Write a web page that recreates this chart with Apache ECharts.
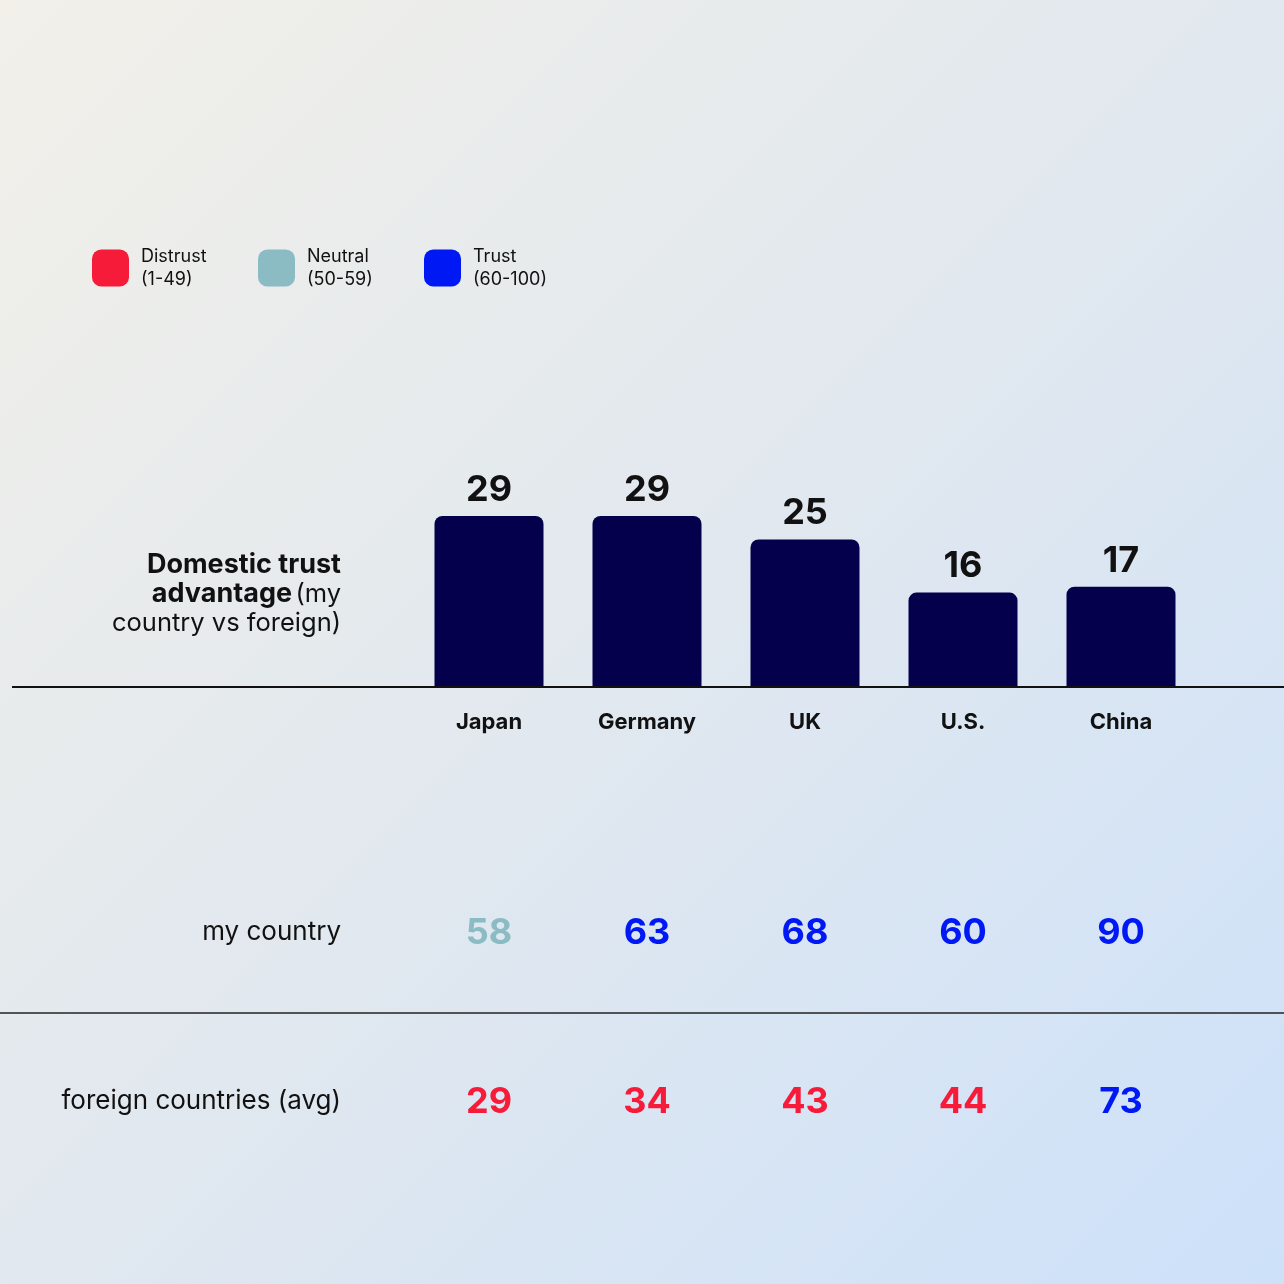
<!DOCTYPE html>
<html>
<head>
<meta charset="utf-8">
<script src="https://cdn.jsdelivr.net/npm/echarts@6/dist/echarts.min.js"></script>
<style>
  html, body { margin: 0; padding: 0; }
  #chart { width: 1284px; height: 1284px; }
</style>
</head>
<body>
<div id="chart"></div>
<script>
  // data
  const countries = ["Japan", "Germany", "UK", "U.S.", "China"];
  const advantage = [29, 29, 25, 16, 17];
  const rows = ["my country", "foreign countries (avg)"];
  const myCountry = [58, 63, 68, 60, 90];
  const foreign = [29, 34, 43, 44, 73];
  const bands = ["Distrust", "Neutral", "Trust"];
  const bandRanges = ["(1-49)", "(50-59)", "(60-100)"];
  const bandMin = [1, 50, 60];
  const bandColors = ["#f71b3a", "#8bbbc3", "#0018f4"];

  const FONT = "Inter";

  function bandOf(v) {
    let b = 0;
    bandMin.forEach((m, i) => { if (v >= m) b = i; });
    return b;
  }

  // split cells per band so each band is its own series (matches legend)
  const cells = bands.map(() => []);
  [myCountry, foreign].forEach((vals, r) => {
    vals.forEach((v, c) => cells[bandOf(v)].push([c, r, v]));
  });

  const chart = echarts.init(document.getElementById("chart"));

  const bandSeries = bands.map((name, i) => ({
    name: name,
    type: "scatter",
    xAxisIndex: 1,
    yAxisIndex: 1,
    symbolSize: 1,
    itemStyle: { color: "rgba(0,0,0,0)", opacity: 1 },
    label: {
      show: true,
      position: "inside",
      offset: [0, 1],
      formatter: (p) => p.value[2],
      fontFamily: FONT,
      fontSize: 36,
      fontWeight: "bold",
      color: bandColors[i]
    },
    emphasis: { disabled: true },
    data: cells[i]
  }));

  const legendLefts = [92, 258, 424];

  const option = {
    backgroundColor: new echarts.graphic.LinearGradient(0, 0, 1, 1, [
      { offset: 0, color: "#f2f0e9" },
      { offset: 0.5, color: "#e1e8ef" },
      { offset: 1, color: "#cde1fa" }
    ]),
    animation: false,
    textStyle: { fontFamily: FONT },
    legend: bands.map((name, i) => ({
      data: [{ name: name, itemStyle: { color: bandColors[i], opacity: 1 } }],
      left: legendLefts[i],
      top: 245,
      padding: 0,
      icon: "roundRect",
      itemWidth: 37,
      itemHeight: 37,
      selectedMode: false,
      formatter: (n) => n + "\n" + bandRanges[bands.indexOf(n)],
      textStyle: {
        fontFamily: FONT,
        fontSize: 18,
        lineHeight: 23,
        color: "#111",
        padding: [0, 0, 0, 7]
      }
    })),
    grid: [
      { left: 410, right: 84, top: 451, height: 236 },
      { left: 410, right: 84, top: 848, height: 338 }
    ],
    xAxis: [
      {
        type: "category",
        gridIndex: 0,
        data: countries,
        axisLine: { show: false },
        axisTick: { show: false },
        axisLabel: {
          margin: 24,
          fontFamily: FONT,
          fontSize: 22,
          fontWeight: "bold",
          color: "#111"
        }
      },
      {
        type: "category",
        gridIndex: 1,
        data: countries,
        show: false
      }
    ],
    yAxis: [
      {
        type: "value",
        gridIndex: 0,
        min: 0,
        max: 40,
        show: false
      },
      {
        type: "category",
        gridIndex: 1,
        data: rows,
        inverse: true,
        axisLine: { show: false },
        axisTick: { show: false },
        splitLine: { show: false },
        axisLabel: {
          margin: 69,
          fontFamily: FONT,
          fontSize: 26,
          color: "#111"
        }
      }
    ],
    graphic: [
      {
        type: "line",
        shape: { x1: 12, y1: 687, x2: 1284, y2: 687 },
        style: { stroke: "#111", lineWidth: 2 },
        z: 10
      },
      {
        type: "line",
        shape: { x1: 0, y1: 1013, x2: 1284, y2: 1013 },
        style: { stroke: "#222", lineWidth: 1.5 }
      },
      {
        type: "text",
        x: 341,
        y: 594,
        style: {
          text: "{b|Domestic trust}\n{b|advantage} {n|(my}\n{n|country vs foreign)}",
          align: "right",
          verticalAlign: "middle",
          rich: {
            b: { fontFamily: FONT, fontSize: 27, fontWeight: "bold", lineHeight: 29, fill: "#111" },
            n: { fontFamily: FONT, fontSize: 25.5, fontWeight: "normal", lineHeight: 29, fill: "#111" }
          }
        }
      }
    ],
    series: [
      {
        name: "Domestic trust advantage",
        type: "bar",
        xAxisIndex: 0,
        yAxisIndex: 0,
        barWidth: 109,
        itemStyle: { color: "#04004b", borderRadius: [8, 8, 0, 0] },
        label: {
          show: true,
          position: "top",
          distance: 8,
          fontFamily: FONT,
          fontSize: 36,
          fontWeight: "bold",
          color: "#111"
        },
        emphasis: { disabled: true },
        data: advantage
      }
    ].concat(bandSeries)
  };

  chart.setOption(option);
</script>
</body>
</html>
